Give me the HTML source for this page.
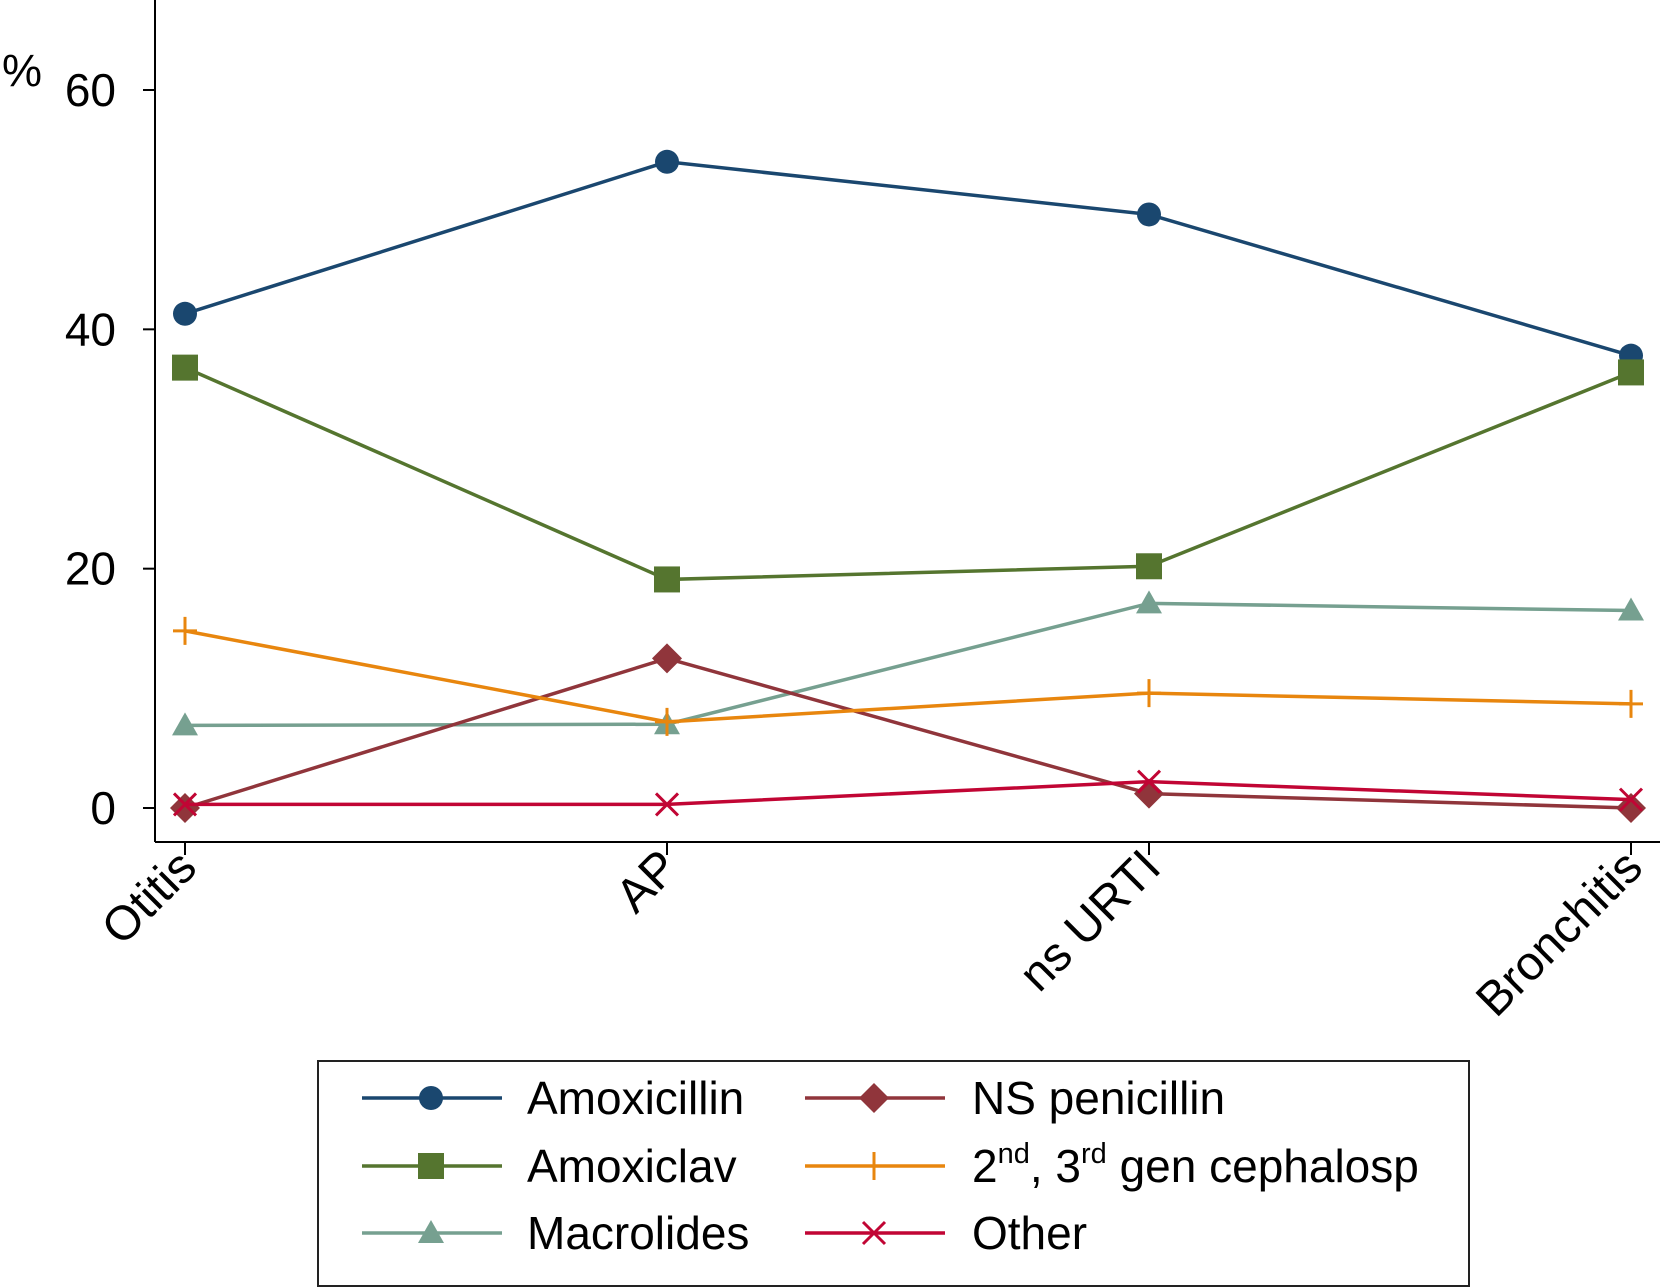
<!DOCTYPE html>
<html><head><meta charset="utf-8"><style>
html,body{margin:0;padding:0;background:#fff;}
svg{display:block;font-family:"Liberation Sans",Arial,sans-serif;}
</style></head><body>
<svg id="chart" width="1660" height="1288" viewBox="0 0 1660 1288">
<g id="axes"></g>
<g id="series"></g>
<g id="legend"></g>
</svg>
<script>
const categories = ["Otitis","AP","ns URTI","Bronchitis"];
const yTicks = [0,20,40,60];
const seriesNames = ["Amoxicillin","Amoxiclav","Macrolides","NS penicillin","2nd, 3rd gen cephalosp","Other"];
const amoxicillin = [41.3,54.0,49.6,37.8];
const amoxiclav = [36.8,19.1,20.2,36.4];
const macrolides = [6.9,7.0,17.1,16.5];
const nsPenicillin = [0,12.5,1.2,0];
const cephalosp = [14.8,7.2,9.6,8.7];
const other = [0.3,0.3,2.2,0.7];

const NS="http://www.w3.org/2000/svg";
function mk(tag,attrs,parent){const e=document.createElementNS(NS,tag);for(const k in attrs)e.setAttribute(k,attrs[k]);if(parent)parent.appendChild(e);return e;}
const xPos=[185,666,1151,1631];
function x(i){return xPos[0]+(xPos[3]-xPos[0])*i/(categories.length-1);}
function y(v){return 808-v*(808-90)/60;}

const axes=document.getElementById('axes');
let e;
e=mk('line',{x1:155,y1:0,x2:155,y2:842,stroke:'#000','stroke-width':2},axes);


e=mk('line',{x1:155,y1:842,x2:1660,y2:842,stroke:'#000','stroke-width':2},axes);


e=mk('text',{x:2,y:86,'font-size':45},axes);e.textContent='%';


yTicks.forEach(t=>{
  const tl=mk('line',{x1:143,y1:y(t),x2:155,y2:y(t),stroke:'#000','stroke-width':2},axes);
  
  
  const tx=mk('text',{x:116,y:y(t)+16,'font-size':46,'text-anchor':'end'},axes);tx.textContent=t;
  
  
});
categories.forEach((c,i)=>{
  const tl=mk('line',{x1:x(i),y1:842,x2:x(i),y2:855,stroke:'#000','stroke-width':2},axes);
  
  
  const tx=mk('text',{x:0,y:0,'font-size':48,'text-anchor':'end',transform:`translate(${x(i)+14},${870}) rotate(-45)`},axes);tx.textContent=c;
  
  
});

const colors=['#1a476f','#55752f','#76a090','#90353b','#e8860e','#c10534'];
const data=[amoxicillin,amoxiclav,macrolides,nsPenicillin,cephalosp,other];
const markers=['circle','square','triangle','diamond','plus','x'];
function marker(kind,cx,cy,col,g){
  let m;
  if(kind==='circle')m=mk('circle',{cx,cy,r:12,fill:col},g);
  else if(kind==='square')m=mk('rect',{x:cx-13,y:cy-13,width:26,height:26,fill:col},g);
  else if(kind==='triangle')m=mk('polygon',{points:`${cx},${cy-13} ${cx+13},${cy+10} ${cx-13},${cy+10}`,fill:col},g);
  else if(kind==='diamond')m=mk('polygon',{points:`${cx},${cy-15} ${cx+15},${cy} ${cx},${cy+15} ${cx-15},${cy}`,fill:col},g);
  else if(kind==='plus')m=mk('path',{d:`M${cx-12},${cy}H${cx+12}M${cx},${cy-14}V${cy+14}`,stroke:col,'stroke-width':3,fill:'none'},g);
  else m=mk('path',{d:`M${cx-11},${cy-11}L${cx+11},${cy+11}M${cx+11},${cy-11}L${cx-11},${cy+11}`,stroke:col,'stroke-width':3,fill:'none'},g);
  return m;
}
const sg=document.getElementById('series');
data.forEach((arr,s)=>{
  const g=mk('g',{},sg);
  
  
  const pl=mk('polyline',{points:arr.map((v,i)=>x(i)+','+y(v)).join(' '),fill:'none',stroke:colors[s],'stroke-width':3.5},g);
  
  
  arr.forEach((v,i)=>{
    const m=marker(markers[s],x(i),y(v),colors[s],g);
    
    
  });
});

const lg=document.getElementById('legend');
e=mk('rect',{x:318,y:1061,width:1151,height:225,fill:'#fff',stroke:'#222','stroke-width':2},lg);


const rowsY=[1098,1166,1233];
const order=[[0,0,0],[1,0,1],[2,0,2],[3,1,0],[4,1,1],[5,1,2]];
order.forEach(([s,col,row])=>{
  const g=mk('g',{},lg);
  
  
  const lx=col?805:362, mx=col?874:431, tx=col?972:527, yy=rowsY[row];
  mk('line',{x1:lx,y1:yy,x2:lx+140,y2:yy,stroke:colors[s],'stroke-width':3.5},g);
  marker(markers[s],mx,yy,colors[s],g);
  const t=mk('text',{x:tx,y:yy+16,'font-size':46},g);
  if(s===4){
    t.innerHTML='2<tspan dy="-19" font-size="29">nd</tspan><tspan dy="19">, 3</tspan><tspan dy="-19" font-size="29">rd</tspan><tspan dy="19"> gen cephalosp</tspan>';
  } else t.textContent=seriesNames[s];
});
</script>
</body></html>
